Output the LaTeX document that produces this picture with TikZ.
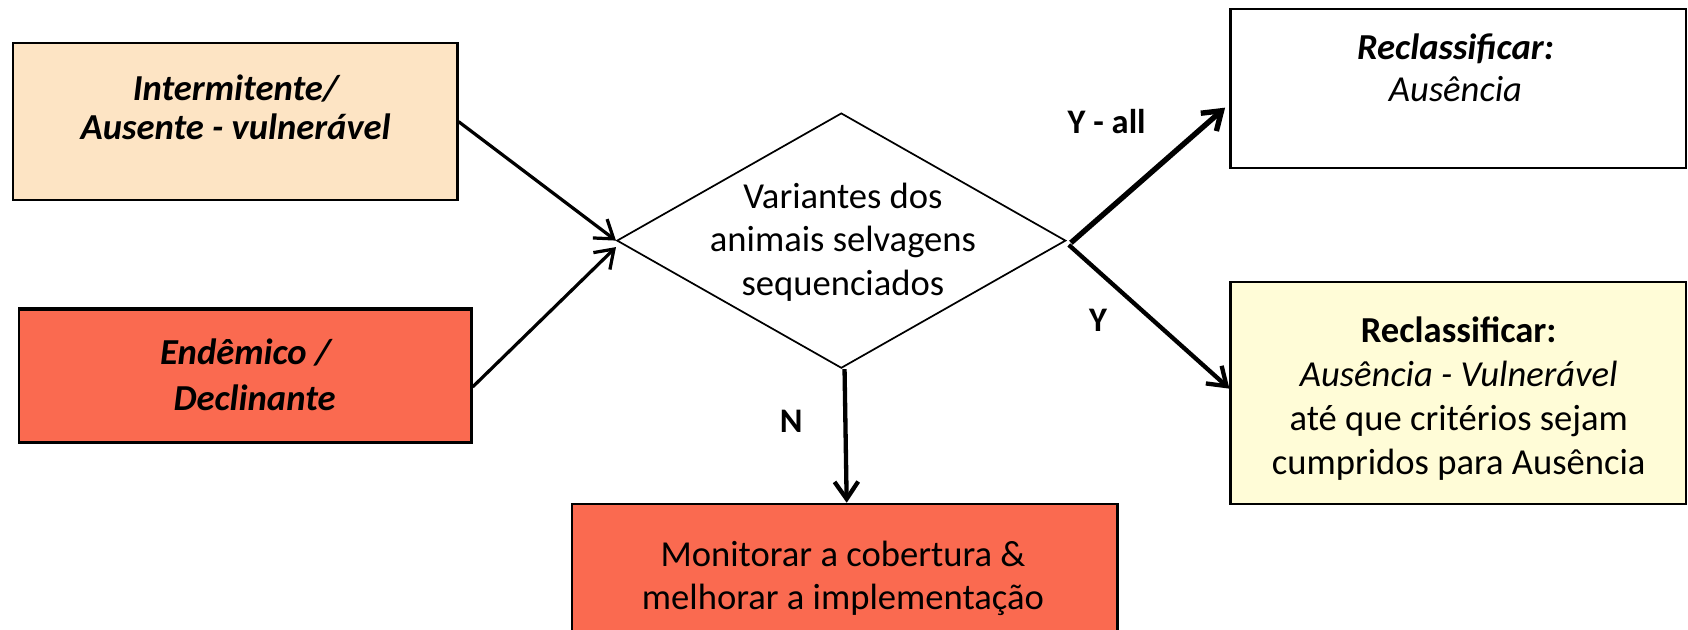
\documentclass[tikz,border=0pt]{standalone}
\usepackage{fontspec}
\setmainfont{Carlito}
\usetikzlibrary{arrows.meta,shapes.geometric,fit}
\definecolor{peach}{HTML}{FDE4C4}
\definecolor{tomatored}{HTML}{FA6A50}
\definecolor{lightyel}{HTML}{FFFCD7}
\begin{document}
\begin{tikzpicture}[x=0.5pt,y=-0.5pt,
  box/.style={draw, line width=1pt, inner sep=0pt},
  txt/.style={align=center, font=\fontsize{17}{20}\selectfont, inner sep=0pt},
  arr/.style={-{Straight Barb[length=8pt,width=11pt]}},
  lab/.style={font=\fontsize{16}{19}\selectfont\bfseries, inner sep=0pt}]
\clip (0,0) rectangle (1568,584.3);
\fill[white] (0,0) rectangle (1568,584.3);

\node[box, fill=peach, fit={(12,40)(425,186)}] (b1) {};
\node[box, fill=tomatored, fit={(18,288)(438,411)}] (b2) {};
\draw[line width=2pt] (b2.north west) -- (b2.north east);
\node[diamond, draw, line width=0.8pt, inner sep=0pt, minimum width=208.5pt, minimum height=118.5pt] (dia) at (781.5,223.5) {};
\node[box, fill=white, fit={(1143,8)(1566,156)}] (b3) {};
\node[box, fill=lightyel, fit={(1143,262)(1566,468)}] (b4) {};
\node[box, fill=tomatored, fit={(531,468)(1038,620)}] (b5) {};

\node[txt, font=\fontsize{17}{18}\selectfont\bfseries\itshape] (t1) at (219,100) {Intermitente/\\Ausente - vulnerável};
\node[txt, font=\fontsize{17}{21.5}\selectfont\bfseries\itshape] (t2) at (228,348) {Endêmico /\\\hspace*{0.5em}Declinante};
\node[txt] (td) at (783,225) {Variantes dos\\animais selvagens\\sequenciados};
\node[txt, font=\fontsize{17}{19.5}\selectfont] (t3) at (1352,62.5) {\textbf{\textit{Reclassificar:}}\\\textit{Ausência}};
\node[txt, font=\fontsize{17}{20.5}\selectfont] (t4) at (1355,370) {\textbf{Reclassificar:}\\\textit{Ausência - Vulnerável}\\até que critérios sejam\\cumpridos para Ausência};
\node[txt] (t5) at (783,537) {Monitorar a cobertura \&\\melhorar a implementação};

\draw[arr, line width=1.5pt] (b1.east) -- (dia.west);
\draw[arr, line width=1.5pt] ([yshift=-5pt]b2.east) -- ([yshift=-3pt]dia.west);
\draw[arr, line width=2.5pt] ([xshift=2pt,yshift=-1pt]dia.east) -- ([xshift=-2pt,yshift=-9pt]b3.west);
\draw[arr, line width=2pt] ([xshift=1pt,yshift=-2pt]dia.east) -- ([yshift=2pt]b4.west);
\draw[arr, line width=2pt] ([xshift=1.5pt]dia.south) -- ([xshift=1pt]b5.north);

\node[lab] (ly1) at (1028,113) {Y - all};
\node[lab] (ly2) at (1020,298) {Y};
\node[lab] (ln) at (735,391) {N};
\end{tikzpicture}
\end{document}
